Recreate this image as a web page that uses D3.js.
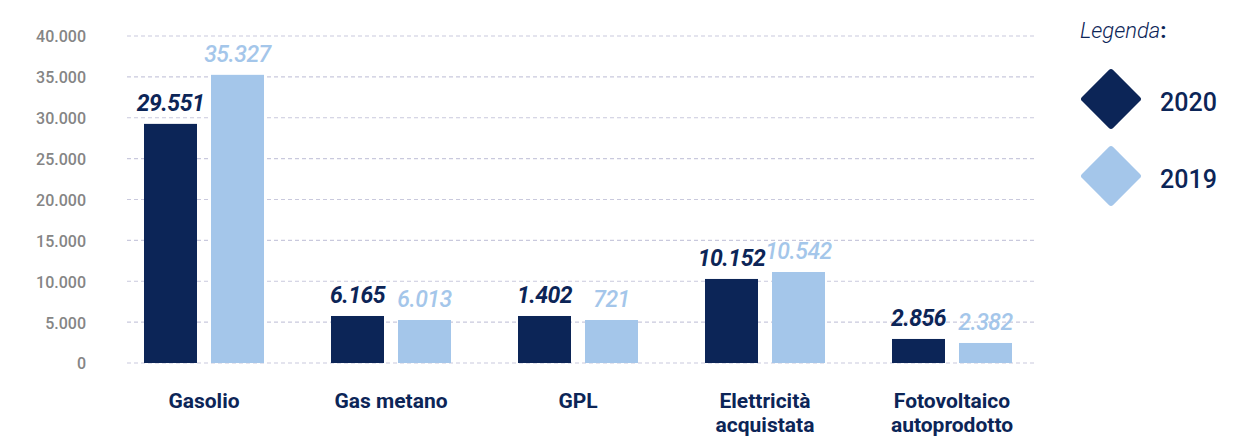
<!DOCTYPE html>
<html>
<head>
<meta charset="utf-8">
<script src="https://cdn.jsdelivr.net/npm/d3@7/dist/d3.min.js"></script>
<style>
  body { margin: 0; background: #fff; }
  svg { display: block; font-family: Roboto, "Noto Sans", sans-serif; }
</style>
</head>
<body>
<div id="chart"></div>
<script>
// categories (multi-line labels)
const categories = ['Gasolio', 'Gas metano', 'GPL', 'Elettricità acquistata', 'Fotovoltaico autoprodotto'];
const categoryLines = [['Gasolio'], ['Gas metano'], ['GPL'], ['Elettricità', 'acquistata'], ['Fotovoltaico', 'autoprodotto']];
const seriesNames = ['2020', '2019'];
// bar heights as drawn in the picture
const bars2020 = [29250, 5750, 5750, 10280, 2940];
const bars2019 = [35250, 5260, 5260, 11130, 2450];
// printed labels
const labels2020 = ['29.551', '6.165', '1.402', '10.152', '2.856'];
const labels2019 = ['35.327', '6.013', '721', '10.542', '2.382'];
const yTicks = [0, 5000, 10000, 15000, 20000, 25000, 30000, 35000, 40000];

const width = 1247, height = 437;
const navy = '#0c2557', light = '#a4c6ea';
const colors = { '2020': navy, '2019': light };
const narrow = '"Liberation Sans Narrow", Roboto, sans-serif';

const locale = d3.formatLocale({ decimal: ',', thousands: '.', grouping: [3], currency: ['', '€'] });
const fmt = locale.format(',');

const svg = d3.select('#chart').append('svg')
    .attr('width', width)
    .attr('height', height);

const y = d3.scaleLinear().domain([0, 40000]).range([363, 36]);
const x = d3.scalePoint().domain(categories).range([204, 952]);
const xs = d3.scaleBand().domain(seriesNames).range([-60, 60]).paddingInner(14 / 67).paddingOuter(0);

// grid
svg.append('g').selectAll('line')
    .data(yTicks)
    .join('line')
    .attr('x1', 127).attr('x2', 1037)
    .attr('y1', d => y(d)).attr('y2', d => y(d))
    .style('stroke', '#c9c9dd')
    .style('stroke-width', 1.2)
    .style('stroke-dasharray', '4,3');

// y labels
svg.append('g').selectAll('text')
    .data(yTicks)
    .join('text')
    .attr('x', 86)
    .attr('y', d => y(d))
    .attr('dy', '0.4em')
    .attr('text-anchor', 'end')
    .style('font-size', '16px')
    .style('font-weight', 500)
    .style('fill', '#858585')
    .text(d => fmt(d));

let rows = [];
categories.forEach((c, i) => {
    rows.push({ cat: c, key: '2020', v: bars2020[i], label: labels2020[i] });
    rows.push({ cat: c, key: '2019', v: bars2019[i], label: labels2019[i] });
});

svg.append('g').selectAll('rect')
    .data(rows)
    .join('rect')
    .attr('x', d => x(d.cat) + xs(d.key))
    .attr('width', xs.bandwidth())
    .attr('y', d => y(d.v))
    .attr('height', d => y(0) - y(d.v))
    .style('fill', d => colors[d.key]);

svg.append('g').selectAll('text')
    .data(rows)
    .join('text')
    .attr('x', d => x(d.cat) + xs(d.key) + xs.bandwidth() / 2)
    .attr('y', d => y(d.v) - 13)
    .attr('text-anchor', 'middle')
    .style('font-size', '23px')
    .style('font-style', 'italic')
    .style('font-weight', d => d.key === '2020' ? 700 : 500)
    .style('letter-spacing', '-0.5px')
    .style('fill', d => colors[d.key])
    .text(d => d.label);

// category labels
const cat = svg.append('g').selectAll('text')
    .data(categories)
    .join('text')
    .attr('x', d => x(d))
    .attr('y', 408)
    .attr('text-anchor', 'middle')
    .style('font-family', narrow)
    .style('font-size', '21px')
    .style('font-weight', 700)
    .style('fill', navy);
cat.selectAll('tspan')
    .data((d, i) => categoryLines[i])
    .join('tspan')
    .attr('x', function () { return d3.select(this.parentNode).attr('x'); })
    .attr('dy', (d, i) => i === 0 ? 0 : 24)
    .text(d => d);

// legend
const legend = svg.append('g').classed('legend', true);
const lt = legend.append('text')
    .attr('x', 1080).attr('y', 38)
    .style('font-size', '22px')
    .style('fill', navy);
lt.append('tspan').style('font-style', 'italic').style('font-weight', 300).text('Legenda');
lt.append('tspan').style('font-weight', 700).text(':');

const item = legend.selectAll('.legend-item')
    .data(seriesNames)
    .join('g')
    .classed('legend-item', true)
    .attr('transform', (d, i) => `translate(${1111},${99 + i * 77})`);
item.append('rect')
    .attr('x', -22).attr('y', -22)
    .attr('width', 44).attr('height', 44)
    .attr('rx', 3)
    .attr('transform', 'rotate(45)')
    .style('fill', d => colors[d]);
item.append('text')
    .attr('x', 49)
    .attr('y', 12)
    .style('font-size', '25px')
    .style('font-weight', 500)
    .style('fill', navy)
    .text(d => d);
</script>
</body>
</html>
